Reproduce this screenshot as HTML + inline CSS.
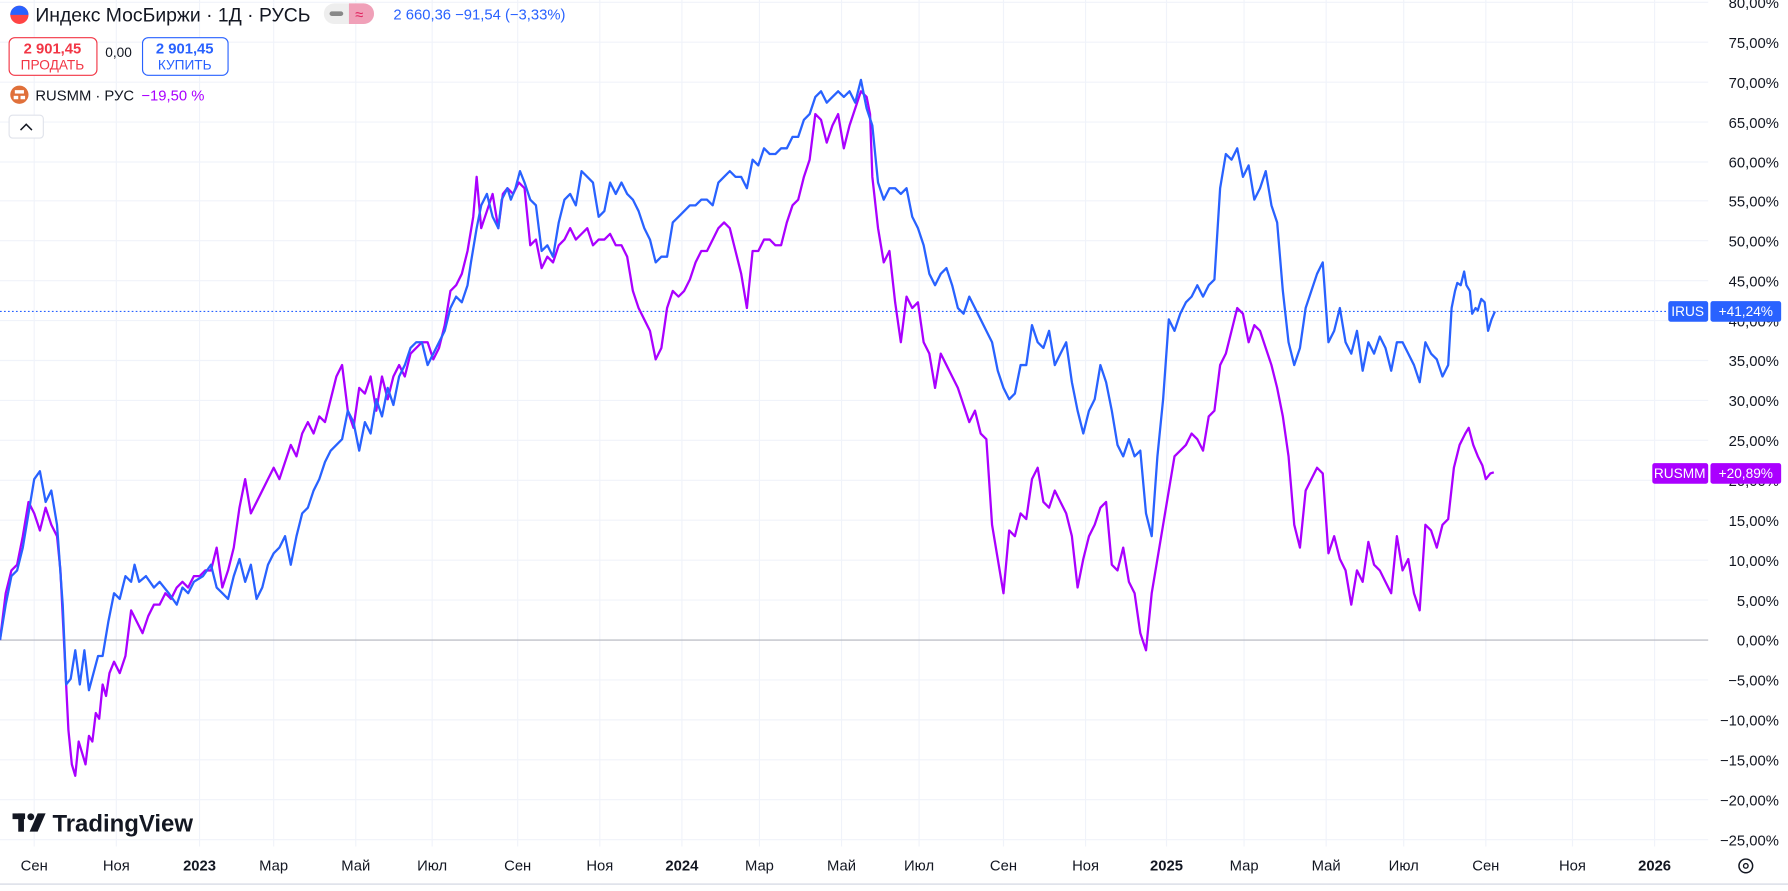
<!DOCTYPE html>
<html><head><meta charset="utf-8"><style>
html,body{margin:0;padding:0;background:#fff;overflow:hidden}
svg{display:block}
text{font-family:"Liberation Sans","DejaVu Sans",sans-serif}
</style></head><body>
<svg width="1788" height="891" viewBox="0 0 1568 781" preserveAspectRatio="none" xmlns="http://www.w3.org/2000/svg">
<rect width="1568" height="781" fill="#fff"/>
<g stroke="#f0f3fa" stroke-width="1">
<line x1="0" y1="2" x2="1498" y2="2"/><line x1="0" y1="37" x2="1498" y2="37"/><line x1="0" y1="72" x2="1498" y2="72"/><line x1="0" y1="107" x2="1498" y2="107"/><line x1="0" y1="142" x2="1498" y2="142"/><line x1="0" y1="176" x2="1498" y2="176"/><line x1="0" y1="211" x2="1498" y2="211"/><line x1="0" y1="246" x2="1498" y2="246"/><line x1="0" y1="281" x2="1498" y2="281"/><line x1="0" y1="316" x2="1498" y2="316"/><line x1="0" y1="351" x2="1498" y2="351"/><line x1="0" y1="386" x2="1498" y2="386"/><line x1="0" y1="421" x2="1498" y2="421"/><line x1="0" y1="456" x2="1498" y2="456"/><line x1="0" y1="491" x2="1498" y2="491"/><line x1="0" y1="526" x2="1498" y2="526"/><line x1="0" y1="596" x2="1498" y2="596"/><line x1="0" y1="631" x2="1498" y2="631"/><line x1="0" y1="666" x2="1498" y2="666"/><line x1="0" y1="701" x2="1498" y2="701"/><line x1="0" y1="736" x2="1498" y2="736"/>
<line x1="30" y1="0" x2="30" y2="742"/><line x1="102" y1="0" x2="102" y2="742"/><line x1="175" y1="0" x2="175" y2="742"/><line x1="240" y1="0" x2="240" y2="742"/><line x1="312" y1="0" x2="312" y2="742"/><line x1="379" y1="0" x2="379" y2="742"/><line x1="454" y1="0" x2="454" y2="742"/><line x1="526" y1="0" x2="526" y2="742"/><line x1="598" y1="0" x2="598" y2="742"/><line x1="666" y1="0" x2="666" y2="742"/><line x1="738" y1="0" x2="738" y2="742"/><line x1="806" y1="0" x2="806" y2="742"/><line x1="880" y1="0" x2="880" y2="742"/><line x1="952" y1="0" x2="952" y2="742"/><line x1="1023" y1="0" x2="1023" y2="742"/><line x1="1091" y1="0" x2="1091" y2="742"/><line x1="1163" y1="0" x2="1163" y2="742"/><line x1="1231" y1="0" x2="1231" y2="742"/><line x1="1303" y1="0" x2="1303" y2="742"/><line x1="1379" y1="0" x2="1379" y2="742"/><line x1="1451" y1="0" x2="1451" y2="742"/>
</g>
<line x1="0" y1="561" x2="1498" y2="561" stroke="#b2b5be" stroke-width="1"/>
<line x1="0" y1="273" x2="1463" y2="273" stroke="#2962ff" stroke-width="1" stroke-dasharray="1.5,2"/>
<polyline fill="none" stroke="#aa00ff" stroke-width="2" stroke-linejoin="round" points="0,561 5,520 10,500 15,495 20,470 25,440 30,450 35,465 40,445 45,460 50,470 53,500 56,560 60,640 63,670 66,680 69,650 72,660 75,670 78,645 81,650 84,625 87,630 90,600 93,610 96,590 100,580 105,590 110,575 115,535 120,545 125,555 130,540 135,530 140,530 145,520 150,525 155,515 160,510 165,515 170,505 175,505 180,500 185,500 190,480 195,515 200,500 205,480 210,445 215,420 220,450 225,440 230,430 235,420 240,410 245,420 250,405 255,390 260,400 265,380 270,370 275,380 280,365 285,370 290,350 295,330 300,320 305,360 310,375 315,340 320,345 325,330 330,360 335,330 340,350 345,330 350,320 355,330 360,310 365,305 370,300 375,300 380,315 385,305 390,285 395,255 400,250 405,240 410,220 415,190 418,155 422,200 427,185 432,170 437,200 441,170 445,165 450,170 455,160 460,165 465,215 470,210 475,235 480,225 485,230 490,215 495,210 500,200 505,210 510,205 515,200 520,215 525,210 530,210 535,205 540,215 545,215 550,225 555,255 560,270 565,280 570,290 575,315 580,305 585,270 590,255 595,260 600,255 605,245 610,230 615,220 620,220 625,210 630,200 635,195 640,200 645,220 650,240 655,270 660,220 665,220 670,210 675,210 680,215 685,215 690,195 695,180 700,175 705,155 710,140 715,100 720,105 725,125 730,110 735,100 740,130 745,110 750,95 755,80 760,85 763,100 765,155 770,200 775,230 780,220 785,265 790,300 795,260 800,270 805,265 810,300 815,310 820,340 825,310 830,320 835,330 840,340 845,355 850,370 855,360 860,380 865,385 870,460 875,490 880,520 885,465 890,470 895,450 900,455 905,420 910,410 915,440 920,445 925,430 930,440 935,450 940,470 945,515 950,490 955,470 960,460 965,445 970,440 975,495 980,500 985,480 990,510 995,520 1000,555 1005,570 1010,520 1015,490 1020,460 1025,430 1030,400 1035,395 1040,390 1045,380 1050,385 1055,395 1060,365 1065,360 1070,320 1075,310 1080,290 1085,270 1090,275 1095,300 1100,285 1105,290 1110,305 1115,320 1120,340 1125,365 1130,400 1135,460 1140,480 1145,430 1150,420 1155,410 1160,415 1165,485 1170,470 1175,490 1180,500 1185,530 1190,500 1195,510 1200,475 1205,495 1210,500 1215,510 1220,520 1225,470 1230,500 1235,490 1240,520 1245,535 1250,460 1255,465 1260,480 1265,460 1270,455 1275,410 1280,390 1285,380 1288,375 1292,390 1296,400 1300,408 1303,420 1307,415 1310,414"/>
<polyline fill="none" stroke="#2962ff" stroke-width="2" stroke-linejoin="round" points="0,561 5,530 10,505 15,500 20,480 25,450 30,420 35,413 40,440 45,430 50,460 55,530 58,600 62,595 66,570 70,600 74,570 78,605 82,590 86,575 90,575 95,545 100,520 105,525 110,505 115,510 118,495 122,510 128,505 135,515 140,510 148,520 155,530 160,515 165,520 170,510 178,505 185,495 190,515 195,520 200,525 205,505 210,490 215,510 220,495 225,525 230,515 235,495 240,485 245,480 250,470 255,495 260,470 265,450 270,445 275,430 280,420 285,405 290,395 295,390 300,385 305,360 310,370 315,395 320,370 325,380 330,350 335,365 340,340 345,355 350,330 355,320 360,305 365,300 370,300 375,320 380,310 385,300 390,290 395,270 400,260 405,265 410,250 413,230 418,200 422,180 427,170 432,190 437,200 440,175 445,165 448,175 452,165 456,150 460,160 465,175 470,180 475,220 480,215 485,225 490,195 495,175 500,170 505,180 510,150 515,155 520,160 525,190 530,185 535,160 540,170 545,160 550,170 555,175 560,185 565,200 570,210 575,230 580,225 585,225 590,195 595,190 600,185 605,180 610,180 615,175 620,175 625,180 630,160 635,155 640,150 645,155 650,155 655,165 660,140 665,145 670,130 675,135 680,135 685,130 690,130 695,120 700,120 705,105 710,100 715,85 720,80 725,90 730,85 735,80 740,85 745,80 750,90 755,70 760,95 765,110 770,160 775,175 780,165 785,165 790,170 795,165 800,190 805,200 810,215 815,240 820,250 825,240 830,235 835,250 840,270 845,275 850,260 855,270 860,280 865,290 870,300 875,325 880,340 885,350 890,345 895,320 900,320 905,285 910,300 915,305 920,290 925,320 930,310 935,300 940,335 945,360 950,380 955,360 960,350 965,320 970,335 975,360 980,390 985,400 990,385 995,400 1000,395 1005,450 1010,470 1015,400 1020,350 1025,280 1030,290 1035,275 1040,265 1045,260 1050,250 1055,260 1060,250 1065,245 1070,165 1075,135 1080,140 1085,130 1090,155 1095,145 1100,175 1105,165 1110,150 1115,180 1120,195 1125,255 1130,300 1135,320 1140,305 1145,270 1150,255 1155,240 1160,230 1165,300 1170,290 1175,270 1180,300 1185,310 1190,290 1195,325 1200,300 1205,310 1210,295 1215,305 1220,325 1225,300 1230,300 1235,310 1240,320 1245,335 1250,300 1255,310 1260,315 1265,330 1270,320 1273,270 1276,255 1278,248 1281,250 1284,238 1286,250 1289,255 1291,275 1294,270 1296,272 1299,262 1302,265 1305,290 1308,280 1311,273"/>
<g font-size="13" fill="#131722" text-anchor="end">
<text x="1560" y="7">80,00%</text><text x="1560" y="42">75,00%</text><text x="1560" y="77">70,00%</text><text x="1560" y="112">65,00%</text><text x="1560" y="147">60,00%</text><text x="1560" y="181">55,00%</text><text x="1560" y="216">50,00%</text><text x="1560" y="251">45,00%</text><text x="1560" y="286">40,00%</text><text x="1560" y="321">35,00%</text><text x="1560" y="356">30,00%</text><text x="1560" y="391">25,00%</text><text x="1560" y="426">20,00%</text><text x="1560" y="461">15,00%</text><text x="1560" y="496">10,00%</text><text x="1560" y="531">5,00%</text><text x="1560" y="566">0,00%</text><text x="1560" y="601">−5,00%</text><text x="1560" y="636">−10,00%</text><text x="1560" y="671">−15,00%</text><text x="1560" y="706">−20,00%</text><text x="1560" y="741">−25,00%</text>
</g>
<rect x="1463" y="264" width="35" height="18" rx="2" fill="#2962ff"/><rect x="1500" y="264" width="62" height="18" rx="2" fill="#2962ff"/>
<text x="1480" y="277" font-size="12" fill="#fff" text-anchor="middle">IRUS</text><text x="1531" y="277" font-size="12" fill="#fff" text-anchor="middle">+41,24%</text>
<rect x="1449" y="406" width="49" height="18" rx="2" fill="#aa00ff"/><rect x="1500" y="406" width="62" height="18" rx="2" fill="#aa00ff"/>
<text x="1473" y="419" font-size="12" fill="#fff" text-anchor="middle">RUSMM</text><text x="1531" y="419" font-size="12" fill="#fff" text-anchor="middle">+20,89%</text>
<line x1="0" y1="775" x2="1568" y2="775" stroke="#e0e3eb" stroke-width="1.5"/>
<g font-size="13" fill="#131722" text-anchor="middle">
<text x="30" y="763">Сен</text><text x="102" y="763">Ноя</text><text x="175" y="763" font-weight="bold">2023</text><text x="240" y="763">Мар</text><text x="312" y="763">Май</text><text x="379" y="763">Июл</text><text x="454" y="763">Сен</text><text x="526" y="763">Ноя</text><text x="598" y="763" font-weight="bold">2024</text><text x="666" y="763">Мар</text><text x="738" y="763">Май</text><text x="806" y="763">Июл</text><text x="880" y="763">Сен</text><text x="952" y="763">Ноя</text><text x="1023" y="763" font-weight="bold">2025</text><text x="1091" y="763">Мар</text><text x="1163" y="763">Май</text><text x="1231" y="763">Июл</text><text x="1303" y="763">Сен</text><text x="1379" y="763">Ноя</text><text x="1451" y="763" font-weight="bold">2026</text>
</g>
<circle cx="1531" cy="759" r="6" fill="none" stroke="#131722" stroke-width="1.3"/><circle cx="1531" cy="759" r="2" fill="none" stroke="#131722" stroke-width="1.2"/>
<g fill="#131722"><rect x="11" y="713" width="11" height="5"/><rect x="16" y="713" width="5" height="16"/><circle cx="27" cy="716" r="3"/><polygon points="33,713 40,713 33,729 26,729"/></g>
<text x="46" y="729" font-size="21" font-weight="bold" fill="#131722">TradingView</text>
<circle cx="17" cy="13" r="8" fill="#f44"/><path d="M9,13 A8,8 0 0 1 25,13 Z" fill="#2962ff"/>
<text x="31" y="19" font-size="17" fill="#131722">Индекс МосБиржи · 1Д · РУСЬ</text>
<rect x="284" y="3" width="44" height="18" rx="9" fill="#eee"/><path d="M306,3 h13 a9,9 0 0 1 0,18 h-13 z" fill="#f0a0b8"/>
<rect x="289" y="10" width="12" height="4" rx="2" fill="#888"/><text x="315" y="17" font-size="13" fill="#e0245e" text-anchor="middle">≈</text>
<text x="345" y="17" font-size="13" fill="#2962ff">2 660,36  −91,54 (−3,33%)</text>
<rect x="8" y="33" width="77" height="33" rx="5" fill="#fff" stroke="#f23645"/><text x="46" y="47" font-size="13" font-weight="bold" fill="#f23645" text-anchor="middle">2 901,45</text><text x="46" y="61" font-size="12" fill="#f23645" text-anchor="middle">ПРОДАТЬ</text>
<text x="104" y="50" font-size="12" fill="#131722" text-anchor="middle">0,00</text>
<rect x="125" y="33" width="75" height="33" rx="5" fill="#fff" stroke="#2962ff"/><text x="162" y="47" font-size="13" font-weight="bold" fill="#2962ff" text-anchor="middle">2 901,45</text><text x="162" y="61" font-size="12" fill="#2962ff" text-anchor="middle">КУПИТЬ</text>
<circle cx="17" cy="83" r="8" fill="#e0703a"/><rect x="13" y="79" width="8" height="3" fill="#fff"/><rect x="12" y="84" width="4" height="3" fill="#fff"/><rect x="18" y="84" width="4" height="3" fill="#fff"/>
<text x="31" y="88" font-size="13" fill="#131722">RUSMM · РУС</text><text x="124" y="88" font-size="13" fill="#aa00ff">−19,50 %</text>
<rect x="8" y="101" width="30" height="20" rx="3" fill="#fff" stroke="#e0e3eb"/><path d="M18,114 l5,-5 l5,5" fill="none" stroke="#131722" stroke-width="1.3"/>
</svg>
</body></html>
